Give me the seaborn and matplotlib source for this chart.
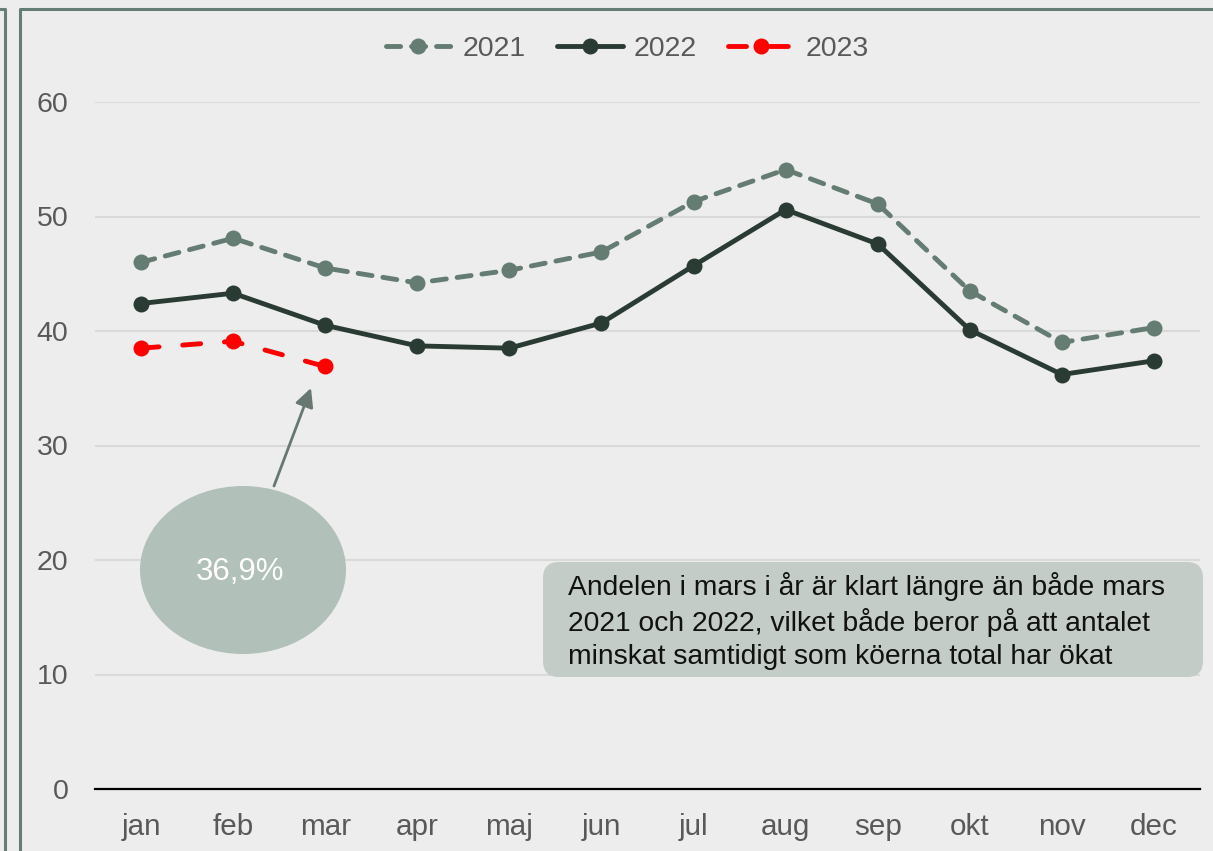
import numpy as np
import pandas as pd
import seaborn as sns
import matplotlib.pyplot as plt
from matplotlib.patches import Ellipse, FancyBboxPatch
from matplotlib.lines import Line2D

# Data
months = ['jan', 'feb', 'mar', 'apr', 'maj', 'jun', 'jul', 'aug', 'sep', 'okt', 'nov', 'dec']
y2021 = [46.0, 48.1, 45.5, 44.2, 45.3, 46.9, 51.3, 54.1, 51.1, 43.5, 39.0, 40.3]
y2022 = [42.4, 43.3, 40.5, 38.7, 38.5, 40.7, 45.7, 50.6, 47.6, 40.1, 36.2, 37.4]
y2023 = [38.5, 39.1, 36.9]
series_names = ['2021', '2022', '2023']
yticks = [0, 10, 20, 30, 40, 50, 60]
callout_label = '36,9%'
note = ("Andelen i mars i år är klart längre än både mars\n"
        "2021 och 2022, vilket både beror på att antalet\n"
        "minskat samtidigt som köerna total har ökat")

# Colours
bg = '#EDEDED'
c2021 = '#647C71'
c2022 = '#2A3B33'
c2023 = '#FF0000'
frame_col = '#667D73'
text_col = '#595959'

sns.set_style('white')
plt.rcParams['font.family'] = ['Liberation Sans', 'DejaVu Sans']

fig = plt.figure(figsize=(12.13, 8.51), dpi=100, facecolor=bg)
ax = fig.add_axes([95 / 1213, 1 - 789 / 851, 1105 / 1213, 687 / 851])
ax.set_facecolor(bg)

x_all = np.arange(len(months))
lw = 3.5
ms = 11.5
dash_2021 = [2.9, 2.25]
dash_2023 = [3.7, 4.9]

sns.lineplot(x=x_all, y=y2021, ax=ax, color=c2021, lw=lw, marker='o', markersize=ms,
             markeredgewidth=0, label=series_names[0])
ax.lines[-1].set_dashes(dash_2021)
ax.lines[-1].set_dash_capstyle('round')
sns.lineplot(x=x_all, y=y2022, ax=ax, color=c2022, lw=lw, marker='o', markersize=ms,
             markeredgewidth=0, label=series_names[1])
sns.lineplot(x=x_all[:len(y2023)], y=y2023, ax=ax, color=c2023, lw=lw, marker='o',
             markersize=ms, markeredgewidth=0, label=series_names[2])
ax.lines[-1].set_dashes(dash_2023)
ax.lines[-1].set_dash_capstyle('round')

ax.set_xlim(-0.5, len(months) - 0.5)
ax.set_ylim(0, 60)
ax.set_xticks(x_all)
ax.set_xticklabels(months)
ax.set_yticks(yticks)
ax.tick_params(axis='both', length=0, labelsize=20.5, labelcolor=text_col)
ax.tick_params(axis='x', labelsize=21.3, pad=17)
ax.tick_params(axis='y', pad=19)
ax.yaxis.grid(True, color='#D9D9D9', lw=1.5)
ax.set_axisbelow(True)
for side in ['top', 'right', 'left']:
    ax.spines[side].set_visible(False)
ax.spines['bottom'].set_color('black')
ax.spines['bottom'].set_linewidth(1.6)

# Legend above the plot
handles, labels = ax.get_legend_handles_labels()
ax.get_legend().remove()
fig.legend(handles, labels, loc='center', bbox_to_anchor=(0.517, 0.942), ncol=3,
           frameon=False, fontsize=20.5, labelcolor=text_col, handlelength=2.3,
           handletextpad=0.4, columnspacing=1.1, numpoints=1)

# Callout bubble with arrow
fig.add_artist(Ellipse((243 / 1213, 1 - 570 / 851), 206 / 1213, 168 / 851,
                       transform=fig.transFigure, facecolor='#B1C0B8', edgecolor='none'))
fig.text(240 / 1213, 1 - 572 / 851, callout_label, ha='center', va='center',
         fontsize=22.5, color='white')
ax.annotate('', xy=(311, 851 - 388), xycoords='figure pixels',
            xytext=(274, 851 - 486), textcoords='figure pixels',
            arrowprops=dict(arrowstyle='-|>', color='#66786F', lw=2,
                            mutation_scale=28, shrinkA=0, shrinkB=0))

# Comment box
fig.add_artist(FancyBboxPatch((5.43, 8.51 - 6.77), 6.60, 1.15,
                              boxstyle='round,pad=0,rounding_size=0.16',
                              transform=fig.dpi_scale_trans,
                              facecolor='#C3CCC6', edgecolor='none'))
fig.text(568 / 1213, 1 - 572 / 851, note, ha='left', va='top', fontsize=20.3,
         color='#111111', linespacing=1.32)

# Frame lines of the surrounding panel
fig.add_artist(Line2D([0, 4.5 / 1213, 4.5 / 1213], [1 - 9 / 851, 1 - 9 / 851, 0],
                      transform=fig.transFigure, color=frame_col, lw=2.2))
fig.add_artist(Line2D([1, 20 / 1213, 20 / 1213], [1 - 9 / 851, 1 - 9 / 851, 0],
                      transform=fig.transFigure, color=frame_col, lw=2.2))

fig.savefig('out.png', dpi=100, facecolor=bg)
